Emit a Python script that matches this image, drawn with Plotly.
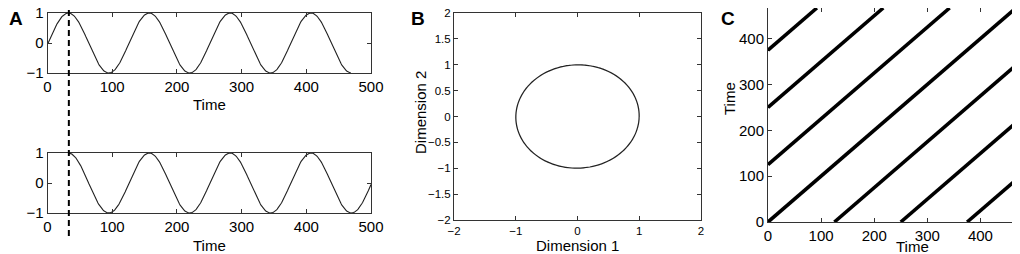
import numpy as np
import plotly.graph_objects as go

# ---- data ----
PERIOD = 125            # period of the oscillation (time steps)
N_SAMPLES = 500         # length of the time series
TAU = 31                # embedding delay (dashed line)
T_MAX = N_SAMPLES - TAU - 2  # length of the embedded series axis
RECURRENCE_OFFSETS = [-375, -250, -125, 0, 125, 250, 375]

A_X_TICKS = [0, 100, 200, 300, 400, 500]
A_Y_TICKS = [-1, 0, 1]
B_X_TICKS = [-2, -1, 0, 1, 2]
B_Y_TICKS = [-2, -1.5, -1, -0.5, 0, 0.5, 1, 1.5, 2]
B_Y_LABELS = ["−2", "−1.5", "−1", "−0.5", "0", "0.5", "1", "1.5", "2"]
C_TICKS = [0, 100, 200, 300, 400]

time = np.arange(1, N_SAMPLES + 1)
signal = np.sin(2 * np.pi * (time - 1) / PERIOD)

n_emb = N_SAMPLES - TAU
top_t = time[:n_emb]
top_x = signal[:n_emb]
bot_t = time[TAU:]
bot_x = signal[TAU:]
emb1 = signal[:n_emb]
emb2 = signal[TAU:]

W, H = 1020, 254
OFF = 8  # page body margin in the browser


def xd(a, b):
    return [(a - OFF) / W, (b - OFF) / W]


def yd(top, bottom):
    return [1 - (bottom - OFF) / H, 1 - (top - OFF) / H]


fig = go.Figure()
LINE = dict(color="#222222", width=1.1)
fig.add_trace(go.Scatter(x=top_t, y=top_x, mode="lines", line=LINE, xaxis="x", yaxis="y"))
fig.add_trace(go.Scatter(x=bot_t, y=bot_x, mode="lines", line=LINE, xaxis="x2", yaxis="y2"))
fig.add_trace(go.Scatter(x=emb2, y=emb1, mode="lines", line=LINE, xaxis="x3", yaxis="y3"))

for d in RECURRENCE_OFFSETS:
    x0 = max(0, -d)
    x1 = min(T_MAX, T_MAX - d)
    fig.add_trace(go.Scatter(x=[x0, x1], y=[x0 + d, x1 + d], mode="lines",
                             line=dict(color="black", width=3.6),
                             xaxis="x4", yaxis="y4"))

FONT = "Liberation Sans, Arial, Helvetica, sans-serif"


def ax(domain, anchor, rng, ticks, size, labels=None):
    d = dict(domain=domain, anchor=anchor, range=rng, tickvals=ticks,
             showline=True, linecolor="#333333", linewidth=1, mirror="ticks",
             ticks="inside", ticklen=4, tickcolor="#333333", showgrid=False,
             zeroline=False, automargin=False, ticklabeloverflow="allow",
             tickfont=dict(family=FONT, size=size, color="black"))
    if labels is not None:
        d["ticktext"] = labels
    return d


fig.update_layout(
    width=W, height=H, margin=dict(l=0, r=0, t=0, b=0),
    paper_bgcolor="white", plot_bgcolor="white", showlegend=False,
    xaxis=ax(xd(47.5, 371), "y", [0, 500], A_X_TICKS, 15),
    yaxis=ax(yd(13, 73), "x", [-1, 1], A_Y_TICKS, 15),
    xaxis2=ax(xd(47.5, 371), "y2", [0, 500], A_X_TICKS, 15),
    yaxis2=ax(yd(153, 213), "x2", [-1, 1], A_Y_TICKS, 15),
    xaxis3=ax(xd(454, 701), "y3", [-2, 2], B_X_TICKS, 11.5),
    yaxis3=ax(yd(13, 220), "x3", [-2, 2], B_Y_TICKS, 11.5, B_Y_LABELS),
    xaxis4=ax(xd(768, 1016), "y4", [0, T_MAX], C_TICKS, 15),
    yaxis4=ax(yd(8, 222), "x4", [0, T_MAX], C_TICKS, 15),
)

# dashed delay marker spanning both A panels
fig.add_shape(type="line", xref="x", yref="paper", x0=time[TAU] + 1, x1=time[TAU] + 1,
              y0=1 - (236 - OFF) / H, y1=1 + OFF / H,
              line=dict(color="black", width=2, dash="6px,4px"))


def label(text, x, y, size, angle=0, bold=False):
    fig.add_annotation(text=f"<b>{text}</b>" if bold else text,
                       x=(x - OFF) / W, y=1 - (y - OFF) / H,
                       xref="paper", yref="paper", showarrow=False, textangle=angle,
                       xanchor="center", yanchor="middle",
                       font=dict(family=FONT, size=size, color="black"))


label("Time", 209, 104, 15)
label("Time", 209, 245, 15)
label("Dimension 1", 577, 245, 15)
label("Dimension 2", 421, 113, 15, angle=-90)
label("Time", 912, 246, 15)
label("Time", 729, 99, 15, angle=-90)
label("A", 16, 18, 19, bold=True)
label("B", 418, 18, 19, bold=True)
label("C", 728, 18, 19, bold=True)

fig.write_html("out.html")
